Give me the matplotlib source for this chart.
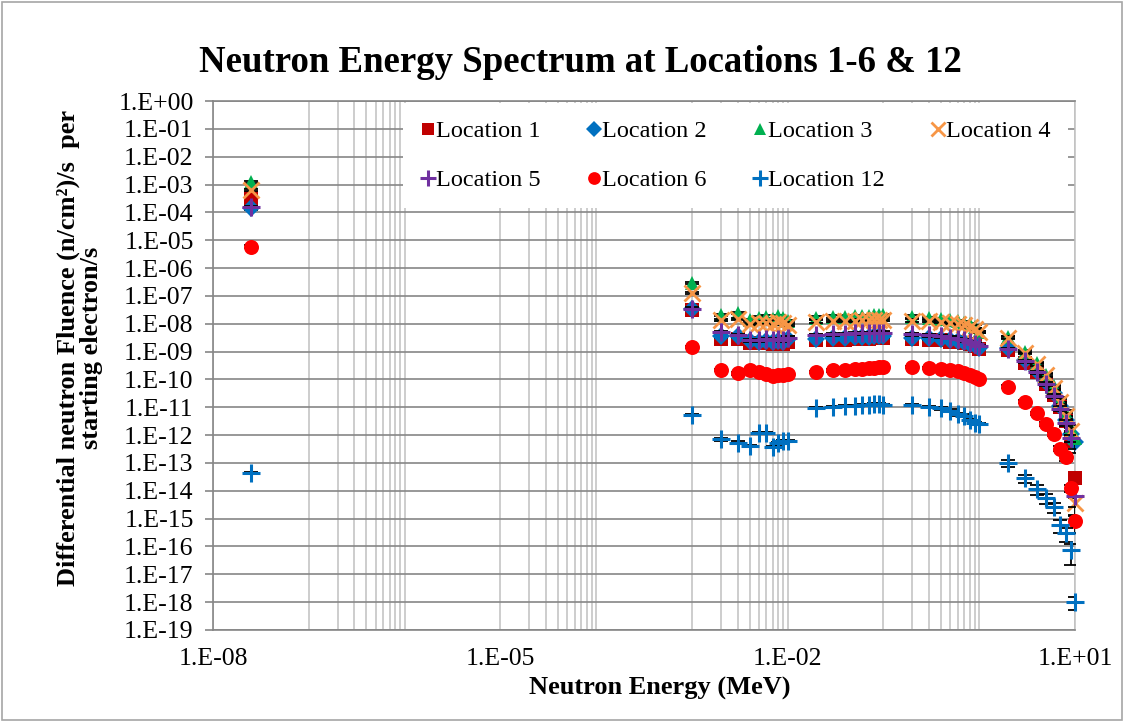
import matplotlib
matplotlib.use("Agg")
import matplotlib.pyplot as plt
import numpy as np
from matplotlib.lines import Line2D
from matplotlib.patches import Rectangle
from matplotlib.ticker import FixedLocator, FuncFormatter, NullFormatter

# ---------------- data ----------------
energy = [2.5e-8, 1e-3,
          2e-3, 3e-3, 4e-3, 5e-3, 6e-3, 7e-3, 8e-3, 9e-3, 1e-2,
          2e-2, 3e-2, 4e-2, 5e-2, 6e-2, 7e-2, 8e-2, 9e-2, 1e-1,
          2e-1, 3e-1, 4e-1, 5e-1, 6e-1, 7e-1, 8e-1, 9e-1, 1e0,
          2e0, 3e0, 4e0, 5e0, 6e0, 7e0, 8e0, 9e0, 1e1]

loc1 = [3.2e-4, 3.2e-8,
        2.8e-9, 2.8e-9, 2.0e-9, 2.0e-9, 2.0e-9, 1.9e-9, 2.0e-9, 1.9e-9, 2.2e-9,
        2.5e-9, 2.6e-9, 2.7e-9, 2.8e-9, 2.8e-9, 2.9e-9, 2.95e-9, 3.0e-9, 3.0e-9,
        2.8e-9, 2.7e-9, 2.5e-9, 2.3e-9, 2.2e-9, 2.0e-9, 1.8e-9, 1.6e-9, 1.26e-9,
        1.1e-9, 4.0e-10, 1.8e-10, 7.1e-11, 2.8e-11, 1.0e-11, 3.2e-12, 6.3e-13, 2.8e-14]

loc2 = [1.4e-4, 3.5e-8,
        3.5e-9, 3.5e-9, 2.4e-9, 2.2e-9, 2.4e-9, 2.2e-9, 2.4e-9, 2.2e-9, 2.8e-9,
        2.8e-9, 3.2e-9, 3.2e-9, 3.3e-9, 3.4e-9, 3.4e-9, 3.5e-9, 3.5e-9, 3.5e-9,
        3.2e-9, 3.0e-9, 2.8e-9, 2.6e-9, 2.4e-9, 2.2e-9, 1.9e-9, 1.66e-9, 1.4e-9,
        1.4e-9, 5.0e-10, 2.0e-10, 7.9e-11, 3.2e-11, 1.1e-11, 3.5e-12, 1.1e-12, 5.6e-13]

loc3 = [1.26e-3, 2.9e-7,
        2.1e-8, 2.4e-8, 1.4e-8, 1.66e-8, 1.8e-8, 1.5e-8, 1.9e-8, 1.6e-8, 1.26e-8,
        1.66e-8, 1.8e-8, 1.8e-8, 1.85e-8, 1.9e-8, 1.9e-8, 2.0e-8, 2.0e-8, 2.0e-8,
        1.8e-8, 1.6e-8, 1.5e-8, 1.4e-8, 1.26e-8, 1.1e-8, 9.5e-9, 7.9e-9, 5.0e-9,
        3.4e-9, 1.0e-9, 4.0e-10, 1.5e-10, 5.6e-11, 1.9e-11, 6.3e-12, 1.8e-12, 7.9e-13]

loc4 = [6.3e-4, 1.26e-7,
        1.4e-8, 1.5e-8, 1.0e-8, 1.1e-8, 1.1e-8, 1.0e-8, 1.2e-8, 1.05e-8, 8.9e-9,
        1.2e-8, 1.26e-8, 1.26e-8, 1.3e-8, 1.35e-8, 1.4e-8, 1.4e-8, 1.4e-8, 1.4e-8,
        1.3e-8, 1.26e-8, 1.17e-8, 1.07e-8, 1.0e-8, 8.9e-9, 7.9e-9, 6.6e-9, 5.0e-9,
        3.2e-9, 8.9e-10, 3.5e-10, 1.4e-10, 5.0e-11, 1.6e-11, 5.0e-12, 1.4e-12, 3.5e-15]

loc5 = [1.6e-4, 3.5e-8,
        5.0e-9, 4.0e-9, 2.5e-9, 2.5e-9, 2.8e-9, 2.6e-9, 2.8e-9, 2.5e-9, 3.2e-9,
        4.0e-9, 4.2e-9, 4.4e-9, 4.5e-9, 4.6e-9, 4.7e-9, 4.7e-9, 4.8e-9, 4.8e-9,
        4.2e-9, 3.8e-9, 3.5e-9, 3.2e-9, 2.8e-9, 2.5e-9, 2.2e-9, 1.9e-9, 1.6e-9,
        1.26e-9, 4.5e-10, 1.8e-10, 7.1e-11, 2.5e-11, 8.9e-12, 2.8e-12, 7.9e-13, 6.3e-15]

loc6 = [5.9e-6, 1.5e-9,
        2.2e-10, 1.66e-10, 2.2e-10, 1.8e-10, 1.6e-10, 1.3e-10, 1.4e-10, 1.5e-10, 1.6e-10,
        1.9e-10, 2.1e-10, 2.2e-10, 2.3e-10, 2.4e-10, 2.5e-10, 2.6e-10, 2.7e-10, 2.7e-10,
        2.75e-10, 2.6e-10, 2.4e-10, 2.2e-10, 2.0e-10, 1.7e-10, 1.5e-10, 1.26e-10, 1.05e-10,
        5.5e-11, 1.6e-11, 6.0e-12, 2.6e-12, 1.1e-12, 3.3e-13, 1.6e-13, 1.26e-14, 7.9e-16]

loc12 = [4.3e-14, 5.2e-12,
         7.1e-13, 5.4e-13, 4.0e-13, 1.2e-12, 1.2e-12, 3.8e-13, 5.0e-13, 6.3e-13, 6.3e-13,
         9.3e-12, 1.05e-11, 1.1e-11, 1.1e-11, 1.2e-11, 1.2e-11, 1.26e-11, 1.3e-11, 1.2e-11,
         1.2e-11, 1.05e-11, 9.1e-12, 7.6e-12, 5.6e-12, 5.0e-12, 3.5e-12, 2.8e-12, 2.5e-12,
         1.0e-13, 2.8e-14, 1.15e-14, 5.5e-15, 2.7e-15, 5.9e-16, 3.0e-16, 7.4e-17, 1.05e-18]

# relative (fractional) statistical errors
err_base = 0.1
err_high_loc12 = [0.3, 0.3, 0.4, 0.4, 0.4, 0.5, 0.5, 0.7, 0.5]   # 2 - 10 MeV
err_high_other = [0.1, 0.1, 0.1, 0.15, 0.15, 0.2, 0.25, 0.3, 0.6]

series_labels = ["Location 1", "Location 2", "Location 3", "Location 4",
                 "Location 5", "Location 6", "Location 12"]
series_values = [loc1, loc2, loc3, loc4, loc5, loc6, loc12]

x_tick_values = [1e-8, 1e-5, 1e-2, 1e1]
y_tick_exponents = list(range(0, -20, -1))

title_text = "Neutron Energy Spectrum at Locations 1-6 & 12"
x_title = "Neutron Energy (MeV)"
y_title = "Differential neutron Fluence (n/cm\u00b2)/s  per\nstarting electron/s"

# ---------------- styles ----------------
styles = [
    dict(marker="s", color="#C00000", ms=9.5, mew=0),
    dict(marker="D", color="#0070C0", ms=9.5, mew=0),
    dict(marker="^", color="#00B050", ms=10, mew=0),
    dict(marker="x", color="#F79646", ms=12, mew=2.0),
    dict(marker="+", color="#7030A0", ms=13, mew=2.2),
    dict(marker="o", color="#FF0000", ms=10.8, mew=0),
    dict(marker="+", color="#0070C0", ms=13, mew=2.2),
]

SERIF = ["Liberation Serif", "DejaVu Serif"]

W, H = 1123, 721
fig = plt.figure(figsize=(W / 100, H / 100), dpi=100)
fig.patch.set_facecolor("white")
L, R, T, B = 213, 1075, 101, 630
ax = fig.add_axes([L / W, 1 - B / H, (R - L) / W, (B - T) / H])
ax.set_xscale("log")
ax.set_yscale("log")
ax.set_xlim(1e-8, 1e1)
ax.set_ylim(1e-19, 1)

# ticks & grids
ax.xaxis.set_major_locator(FixedLocator(x_tick_values))
minor_x = [k * 10.0 ** e for e in (-7, -5, -3, -1) for k in range(1, 11)]
ax.xaxis.set_minor_locator(FixedLocator(minor_x))
ax.xaxis.set_minor_formatter(NullFormatter())
ax.xaxis.set_major_formatter(FuncFormatter(
    lambda v, p: "1.E{:+03d}".format(int(round(np.log10(v))))))
ax.yaxis.set_major_locator(FixedLocator([10.0 ** e for e in y_tick_exponents]))
ax.yaxis.set_minor_locator(FixedLocator([]))
ax.yaxis.set_major_formatter(FuncFormatter(
    lambda v, p: "1.E{:+03d}".format(int(round(np.log10(v))))))

ax.grid(True, which="major", axis="y", color="#868686", lw=1.2, zorder=0)
ax.grid(True, which="both", axis="x", color="#C0C0C0", lw=1.1, zorder=0)
ax.set_axisbelow(True)
ax.tick_params(axis="x", which="both", length=0, pad=13, labelsize=18.5)
ax.tick_params(axis="y", which="major", length=6, width=1.2, color="#868686",
               pad=8, labelsize=18.5, direction="out")
for lab in ax.get_xticklabels() + ax.get_yticklabels():
    lab.set_fontfamily(SERIF)

for side in ("left", "bottom", "top"):
    ax.spines[side].set_color("#868686")
    ax.spines[side].set_linewidth(1.2)
ax.spines["right"].set_color("#C0C0C0")
ax.spines["right"].set_linewidth(1.1)

# ---------------- data series ----------------
handles = []
for i, (lab, vals, st) in enumerate(zip(series_labels, series_values, styles)):
    vals = np.array(vals, dtype=float)
    high = err_high_loc12 if lab == "Location 12" else err_high_other
    frac = np.array([err_base] * (len(vals) - len(high)) + list(high))
    yerr = vals * frac
    ax.errorbar(energy, vals, yerr=yerr, fmt="none", ecolor="black",
                elinewidth=1.3, capsize=5, capthick=1.3, zorder=2 + 2 * i)
    ax.plot(energy, vals, linestyle="none", marker=st["marker"],
            color=st["color"], markersize=st["ms"], markeredgewidth=st["mew"],
            markeredgecolor=st["color"], zorder=3 + 2 * i, clip_on=False)
    handles.append(Line2D([], [], linestyle="none", marker=st["marker"],
                          color=st["color"], markersize=st["ms"] * 0.85,
                          markeredgewidth=st["mew"], markeredgecolor=st["color"]))

order = [0, 4, 1, 5, 2, 6, 3]
leg = ax.legend([handles[k] for k in order], [series_labels[k] for k in order],
                ncol=4, loc="upper left",
                bbox_to_anchor=(403 / W, 1 - 103 / H), bbox_transform=fig.transFigure,
                borderaxespad=0, borderpad=0.7, frameon=True, fancybox=False,
                framealpha=1, facecolor="white", edgecolor="none",
                handlelength=0.65, handletextpad=0.0, columnspacing=1.88,
                labelspacing=1.12, prop={"family": SERIF, "size": 17.5})
leg.set_zorder(30)

# ---------------- text ----------------
fig.text(580 / W, 1 - 62 / H, title_text, ha="center", va="center",
         fontsize=26.5, fontweight="bold", family=SERIF)
fig.text(660 / W, 1 - 688 / H, x_title, ha="center", va="center",
         fontsize=19, fontweight="bold", family=SERIF)
fig.text(80 / W, 1 - 348 / H, y_title, ha="center", va="center", rotation=90,
         multialignment="center", linespacing=1.0,
         fontsize=19, fontweight="bold", family=SERIF)

# outer chart border
fig.patches.append(Rectangle((1.5 / W, 1.5 / H), (W - 3) / W, (H - 3) / H,
                             transform=fig.transFigure, fill=False,
                             edgecolor="#A6A6A6", lw=1.2))

fig.savefig("out.png", dpi=100)
